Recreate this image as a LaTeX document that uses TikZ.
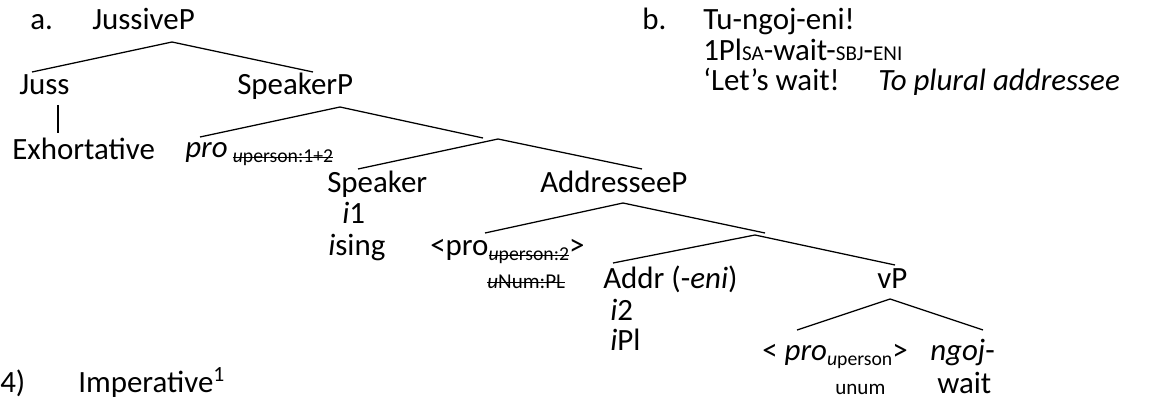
\documentclass[tikz,border=0pt]{standalone}
\usepackage{fontspec}
\setmainfont{Carlito}
\newsavebox{\strikebox}
\newcommand{\strike}[1]{\sbox{\strikebox}{#1}\rlap{\rule[0.22em]{\wd\strikebox}{0.7pt}}\usebox{\strikebox}}
\newcommand{\feat}[1]{\raisebox{-0.35ex}{\fontsize{14}{14}\selectfont #1}}
\newcommand{\smallfeat}[1]{{\fontsize{15}{15}\selectfont #1}}
\newcommand{\fakesc}[1]{{\fontsize{15}{15}\selectfont #1}}

\begin{document}
\begin{tikzpicture}[x=0.025cm,y=-0.025cm]

\tikzset{word/.style = {anchor=base west, inner sep=0pt, font=\fontsize{22}{26}\selectfont}}
\tikzset{branch/.style = {line width=0.9pt}}
\useasboundingbox (0,0) rectangle (1161,400);
\clip (0,0) rectangle (1161,400);

%tree (a)
\node[word] (a) at (30,30) {a.};
\node[word] (jussiveP) at (92,30) {JussiveP};
\node[word] (juss) at (19,95) {Juss};
\node[word] (speakerP) at (237,95) {SpeakerP};
\node[word] (exh) at (12,159) {Exhortative};
\node[word] (pro1) at (185,157) {\textit{pro}\,\feat{\strike{\textit{u}person:1+2}}};
\node[word] (speaker) at (327,192) {Speaker};
\node[word] (i1) at (342,223) {\textit{i}1};
\node[word] (ising) at (328,255) {\textit{i}sing};
\node[word] (addresseeP) at (540,192) {AddresseeP};
\node[word] (pro2) at (430,255) {<pro\feat{\strike{\textit{u}person:2}}>};
\node[word] (unum1) at (487,288) {\smallfeat{\strike{\textit{u}Num:PL}}};
\node[word] (addr) at (603,288) {Addr (-\textit{eni})};
\node[word] (i2) at (610,320) {\textit{i}2};
\node[word] (ipl) at (610,350) {\textit{i}Pl};
\node[word] (vP) at (877,288) {vP};
\node[word] (pro3) at (762,360) {< \textit{pro}\feat{\textit{u}person}>};
\node[word] (ngoj) at (930,360) {\textit{ngoj}-};
\node[word] (unum2) at (835,394) {\smallfeat{unum}};
\node[word] (wait) at (937,393) {wait};

%example (b)
\node[word] (b) at (642,30) {b.};
\node[word] (tu) at (703,30) {Tu-ngoj-eni!};
\node[word] (gloss) at (703,61) {1Pl\fakesc{SA}-wait-\fakesc{SBJ}-\fakesc{ENI}};
\node[word] (trans) at (703,91) {‘Let’s wait!};
\node[word] (plural) at (878,91) {\textit{To plural addressee}};

%caption
\node[word] (num) at (0,392) {4)};
\node[word] (imp) at (78,392) {Imperative\textsuperscript{1}};

%branches
\coordinate (jp) at (172,42);
\coordinate (jpl) at (32,72);
\coordinate (jpr) at (313,72);
\coordinate (sp) at (340,107);
\coordinate (spl) at (200,137);
\coordinate (spr) at (483,138);
\coordinate (sk) at (498,139);
\coordinate (skl) at (358,169);
\coordinate (skr) at (642,169);
\coordinate (ad) at (623,203);
\coordinate (adl) at (485,233);
\coordinate (adr) at (765,233);
\coordinate (ar) at (755,235);
\coordinate (arl) at (613,263);
\coordinate (arr) at (895,265);
\coordinate (v) at (890,299);
\coordinate (vl) at (797,330);
\coordinate (vr) at (983,330);
\coordinate (jt) at (58,105);
\coordinate (jb) at (58,133);

\draw[branch] (jpl) -- (jp) -- (jpr);
\draw[branch] (spl) -- (sp) -- (spr);
\draw[branch] (skl) -- (sk) -- (skr);
\draw[branch] (adl) -- (ad) -- (adr);
\draw[branch] (arl) -- (ar) -- (arr);
\draw[branch] (vl) -- (v) -- (vr);
\draw[branch] (jt) -- (jb);

\end{tikzpicture}
\end{document}
